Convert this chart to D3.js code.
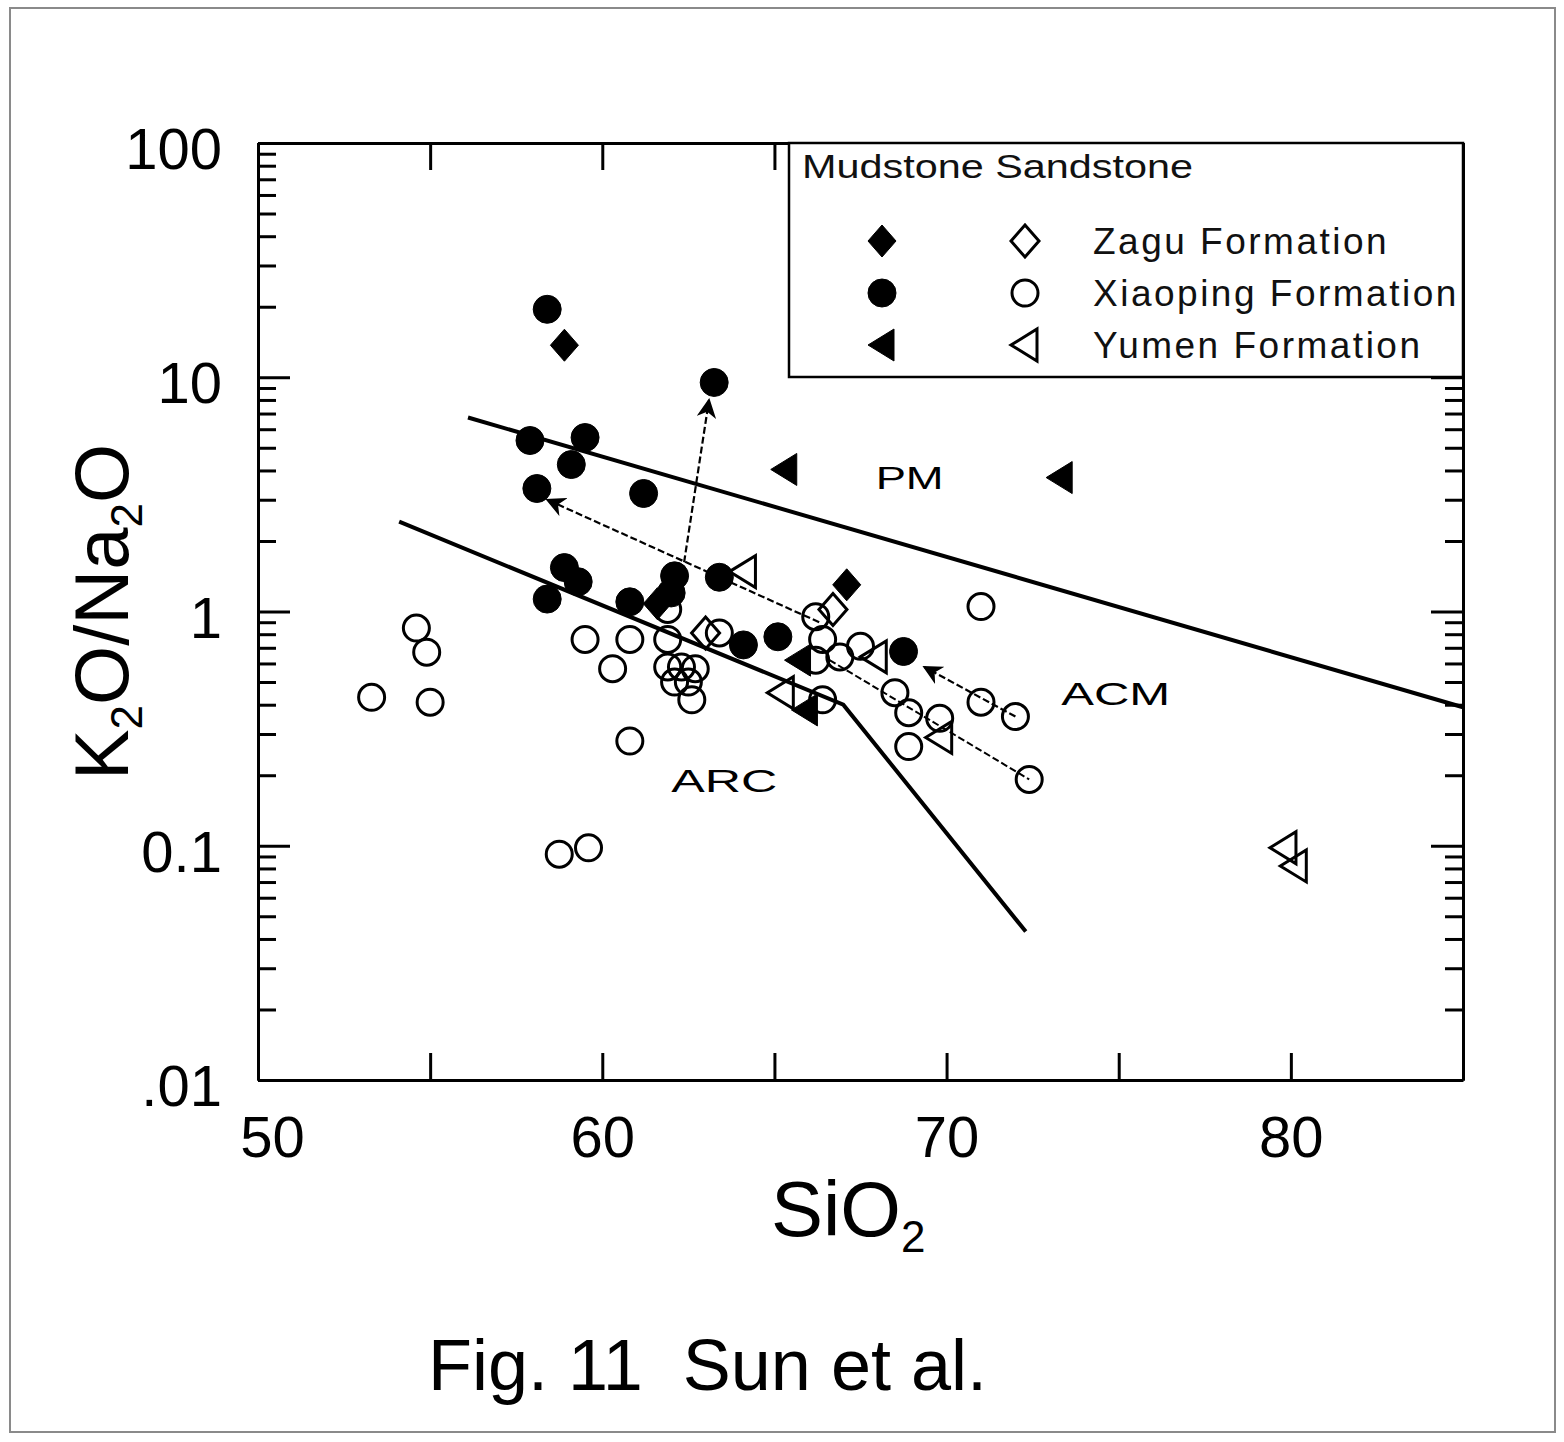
<!DOCTYPE html>
<html>
<head>
<meta charset="utf-8">
<script src="https://cdn.jsdelivr.net/npm/d3@7"></script>
<style>
  html, body { margin: 0; padding: 0; background: #fff; }
  svg { display: block; font-family: "Liberation Sans", Arial, sans-serif; }
</style>
</head>
<body>
<svg id="chart" width="1564" height="1442"></svg>
<script>
// ---------- data (SiO2 wt%, K2O/Na2O) ----------
const zaguMud = [[58.9, 13.7], [67.1, 1.30], [61.6, 1.08]];
const zaguSand = [[66.7, 1.02], [63.0, 0.81]];
const xiaoMud = [
  [58.4, 19.5], [57.9, 5.37], [59.5, 5.53], [59.1, 4.24], [58.1, 3.35],
  [61.2, 3.19], [63.25, 9.5], [58.9, 1.54], [59.3, 1.34], [58.4, 1.13],
  [60.8, 1.10], [62.1, 1.42], [62.0, 1.20], [63.4, 1.40], [64.1, 0.72],
  [65.1, 0.78], [68.75, 0.675]
];
const xiaoSand = [
  [54.6, 0.85], [54.9, 0.67], [53.3, 0.43], [55.0, 0.41],
  [59.5, 0.76], [60.8, 0.76], [60.3, 0.57], [60.8, 0.28], [58.75, 0.092], [59.6, 0.098],
  [61.9, 1.02], [61.9, 0.76], [63.4, 0.81], [61.9, 0.58], [62.3, 0.58], [62.7, 0.57],
  [62.1, 0.50], [62.5, 0.50], [62.6, 0.42],
  [66.2, 0.95], [66.4, 0.76], [66.2, 0.62], [66.9, 0.64], [67.5, 0.71], [66.4, 0.42],
  [71.0, 1.05], [68.5, 0.45], [68.9, 0.37], [69.8, 0.35], [68.9, 0.265],
  [71.0, 0.41], [72.0, 0.356], [72.4, 0.192]
];
const yumenMud = [[65.3, 4.04], [73.3, 3.73], [65.7, 0.62], [65.9, 0.38]];
const yumenSand = [[64.1, 1.48], [65.2, 0.45], [67.9, 0.64], [69.8, 0.29], [79.8, 0.098], [80.1, 0.082]];

// discrimination boundaries
const boundaryPM = [[56.1, 6.73], [85, 0.39]];
const boundaryARC = [[54.1, 2.42], [67.0, 0.40], [72.3, 0.043]];
// trend arrows [from, to]
const arrows = [
  [[62.2, 1.1], [63.1, 8.0]],
  [[66.3, 0.90], [58.4, 3.0]],
  [[72.0, 0.356], [69.35, 0.58]]
];
const trendLine = [[66.6, 0.62], [72.4, 0.192]];

const regionLabels = [["PM", 67.94, 3.35], ["ACM", 73.33, 0.40], ["ARC", 62.0, 0.17]];
const regionLabelWidths = [68, 109, 106];

const xTicks = [50, 55, 60, 65, 70, 75, 80, 85];
const xTickLabels = [50, 60, 70, 80];
const yDecades = [0.01, 0.1, 1, 10, 100];
const yTickLabels = [".01", "0.1", "1", "10", "100"];

const legendTitle = "Mudstone Sandstone";
const legendRows = [
  ["diamond", "Zagu Formation"],
  ["circle", "Xiaoping Formation"],
  ["triangle", "Yumen Formation"]
];

// ---------- layout ----------
const L = 258, R = 1463, T = 143, B = 1080;
const svg = d3.select("#chart");
const x = d3.scaleLinear().domain([50, 85]).range([L, R]);
const y = d3.scaleLog().domain([0.01, 100]).range([B, T]);

// outer frame
svg.append("rect").attr("x", 10).attr("y", 8).attr("width", 1545).attr("height", 1424)
  .attr("fill", "none").attr("stroke", "#8a8a8a").attr("stroke-width", 2);

// defs: arrowhead
svg.append("defs").append("marker")
  .attr("id", "ah").attr("viewBox", "0 0 10 10").attr("refX", 9).attr("refY", 5)
  .attr("markerWidth", 9).attr("markerHeight", 9).attr("orient", "auto")
  .append("path").attr("d", "M0,0 L10,5 L0,10 L3,5 Z").attr("fill", "#000");

const line = d3.line().x(d => x(d[0])).y(d => y(d[1]));

// boundaries
[boundaryPM, boundaryARC].forEach(b => {
  svg.append("path").attr("d", line(b)).attr("fill", "none")
    .attr("stroke", "#000").attr("stroke-width", 4);
});
// trend line + arrows
svg.append("path").attr("d", line(trendLine)).attr("fill", "none")
  .attr("stroke", "#000").attr("stroke-width", 2).attr("stroke-dasharray", "7,3");
arrows.forEach(a => {
  svg.append("path").attr("d", line(a)).attr("fill", "none")
    .attr("stroke", "#000").attr("stroke-width", 2.2).attr("stroke-dasharray", "7,3")
    .attr("marker-end", "url(#ah)");
});

// symbols
function symPath(type) {
  if (type === "diamond") return "M0,-16 L14,0 L0,16 L-14,0 Z";
  if (type === "triangle") return "M-14,0 L12,-16 L12,16 Z";
  return null;
}
function drawSym(g, type, filled, cx, cy) {
  if (type === "circle") {
    g.append("circle").attr("cx", cx).attr("cy", cy).attr("r", filled ? 14 : 13)
      .attr("fill", filled ? "#000" : "none").attr("stroke", "#000").attr("stroke-width", filled ? 1 : 3);
  } else {
    g.append("path").attr("d", symPath(type)).attr("transform", `translate(${cx},${cy})`)
      .attr("fill", filled ? "#000" : "none").attr("stroke", "#000")
      .attr("stroke-width", filled ? 1 : 3).attr("stroke-linejoin", "miter");
  }
}
const gPts = svg.append("g");
const series = [
  [xiaoSand, "circle", false], [zaguSand, "diamond", false], [yumenSand, "triangle", false],
  [xiaoMud, "circle", true], [zaguMud, "diamond", true], [yumenMud, "triangle", true]
];
series.forEach(([data, type, filled]) => {
  data.forEach(d => drawSym(gPts, type, filled, x(d[0]), y(d[1])));
});

// region labels
regionLabels.forEach(([t, vx, vy], i) => {
  svg.append("text").attr("x", x(vx)).attr("y", y(vy)).text(t)
    .attr("font-size", 32).attr("textLength", regionLabelWidths[i])
    .attr("lengthAdjust", "spacingAndGlyphs").attr("fill", "#000");
});

// ---------- axes ----------
const yMinor = [];
yDecades.slice(0, -1).forEach(d => { for (let k = 2; k <= 9; k++) yMinor.push(d * k); });

function styleAxis(g) {
  g.selectAll("path.domain").attr("stroke", "#000").attr("stroke-width", 3);
  g.selectAll(".tick line").attr("stroke", "#000").attr("stroke-width", 3);
  g.selectAll("text").attr("fill", "#000").attr("font-family", "Liberation Sans, Arial, sans-serif");
}
// left
const gLeft = svg.append("g").attr("transform", `translate(${L},0)`)
  .call(d3.axisLeft(y).tickValues(yDecades).tickSize(-32).tickSizeOuter(0).tickPadding(36)
    .tickFormat((d, i) => yTickLabels[i]));
gLeft.selectAll("text").attr("font-size", 58).attr("dy", "0.44em");
styleAxis(gLeft);
const gLeftMin = svg.append("g").attr("transform", `translate(${L},0)`)
  .call(d3.axisLeft(y).tickValues(yMinor).tickSize(-18).tickSizeOuter(0).tickFormat(""));
styleAxis(gLeftMin);
// right
const gRight = svg.append("g").attr("transform", `translate(${R},0)`)
  .call(d3.axisRight(y).tickValues(yDecades).tickSize(-32).tickSizeOuter(0).tickFormat(""));
styleAxis(gRight);
const gRightMin = svg.append("g").attr("transform", `translate(${R},0)`)
  .call(d3.axisRight(y).tickValues(yMinor).tickSize(-18).tickSizeOuter(0).tickFormat(""));
styleAxis(gRightMin);
// bottom
const gBot = svg.append("g").attr("transform", `translate(0,${B})`)
  .call(d3.axisBottom(x).tickValues(xTicks).tickSize(-27).tickSizeOuter(0).tickPadding(36)
    .tickFormat(d => xTickLabels.includes(d) ? String(d) : ""));
gBot.selectAll("text").attr("font-size", 58);
gBot.selectAll(".tick").filter(d => d === 50).select("text").attr("dx", 14);
styleAxis(gBot);
// top
const gTop = svg.append("g").attr("transform", `translate(0,${T})`)
  .call(d3.axisTop(x).tickValues(xTicks).tickSize(-27).tickSizeOuter(0).tickFormat(""));
styleAxis(gTop);

// ---------- legend ----------
const lg = svg.append("g");
lg.append("rect").attr("x", 789).attr("y", T).attr("width", R - 789).attr("height", 234)
  .attr("fill", "#fff").attr("stroke", "#000").attr("stroke-width", 2.5);
lg.append("text").attr("x", 802).attr("y", 178).text(legendTitle)
  .attr("font-size", 33).attr("textLength", 391).attr("lengthAdjust", "spacingAndGlyphs")
  .attr("fill", "#111");
legendRows.forEach(([type, label], i) => {
  const cy = 241 + i * 52;
  drawSym(lg, type, true, 882, cy);
  drawSym(lg, type, false, 1025, cy);
  lg.append("text").attr("x", 1093).attr("y", cy + 13).text(label)
    .attr("font-size", 37).attr("letter-spacing", 2.5).attr("fill", "#111");
});

// ---------- axis titles ----------
const yl = svg.append("text").attr("transform", "translate(128,612) rotate(-90)")
  .attr("text-anchor", "middle").attr("font-size", 76).attr("fill", "#000");
yl.append("tspan").text("K");
yl.append("tspan").text("2").attr("font-size", 44).attr("dy", 14);
yl.append("tspan").text("O/Na").attr("dy", -14);
yl.append("tspan").text("2").attr("font-size", 44).attr("dy", 14);
yl.append("tspan").text("O").attr("dy", -14);

const xl = svg.append("text").attr("x", 771).attr("y", 1236).attr("font-size", 78).attr("fill", "#000");
xl.append("tspan").text("SiO");
xl.append("tspan").text("2").attr("font-size", 44).attr("dy", 16);

svg.append("text").attr("x", 428).attr("y", 1390).attr("font-size", 72).attr("fill", "#000")
  .attr("xml:space", "preserve").style("white-space", "pre").text("Fig. 11  Sun et al.");
</script>
</body>
</html>
